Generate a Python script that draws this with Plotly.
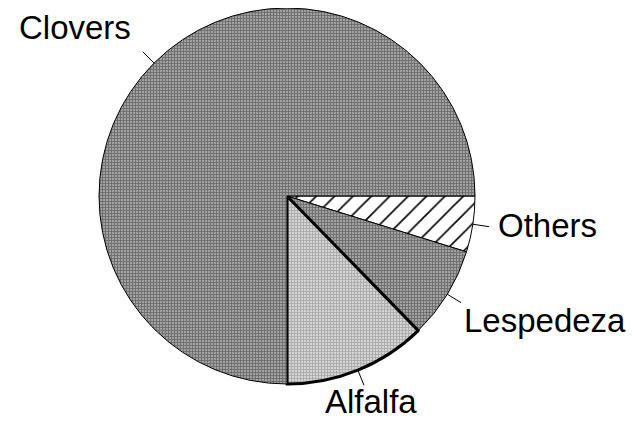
import math
import plotly.graph_objects as go

# ---- data ----
labels = ["Others", "Lespedeza", "Alfalfa", "Clovers"]
values = [4.8, 7.9, 12.3, 75.0]

# ---- style ----
OFF = 8                             # default page body margin
W, H = 634 - OFF, 422 - OFF
CX, CY, R = 287 - OFF, 196 - OFF, 188   # pie centre / radius in px (figure coords)
bg_colors = ["#ffffff", "#a0a0a0", "#d4d4d4", "#a0a0a0"]
fg_colors = ["#000000", "#686868", "#a4a4a4", "#686868"]
shapes = ["/", "+", "+", "+"]
sizes = [13, 3, 3, 3]
solid = [0.12, 0.45, 0.45, 0.45]
line_w = [1, 1, 3, 1]
LEAD = 18
FONT = dict(family="Liberation Sans, Arial, sans-serif", size=33, color="#000000")
label_anchor = {
    "Others": dict(xanchor="left", yanchor="middle", xshift=5, yshift=1),
    "Lespedeza": dict(xanchor="left", yanchor="top", xshift=-1, yshift=4),
    "Alfalfa": dict(xanchor="center", yanchor="top", xshift=6, yshift=6),
    "Clovers": dict(xanchor="right", yanchor="bottom", xshift=-8, yshift=2),
}

def clamp(v):
    return max(0.0, min(1.0, v))

fig = go.Figure(go.Pie(
    labels=labels, values=values, sort=False, direction="clockwise",
    rotation=90, textinfo="none", hoverinfo="label+percent",
    domain=dict(x=[clamp((CX - R) / W), clamp((CX + R) / W)],
                y=[clamp((H - CY - R) / H), clamp((H - CY + R) / H)]),
    marker=dict(
        colors=bg_colors,
        line=dict(color="#000000", width=line_w),
        pattern=dict(shape=shapes, bgcolor=bg_colors, fgcolor=fg_colors,
                     size=sizes, solidity=solid, fillmode="replace"),
    ),
))

total = sum(values)
cum = 0.0
annotations = []
for lab, v in zip(labels, values):
    mid = -(cum + v / 2) / total * 2 * math.pi
    cum += v
    c, s = math.cos(mid), math.sin(mid)
    tip_x = (CX + R * c) / W
    tip_y = (H - CY + R * s) / H
    tail_x = (CX + (R + LEAD) * c) / W
    tail_y = (H - CY + (R + LEAD) * s) / H
    # leader line
    annotations.append(dict(
        x=tip_x, y=tip_y, xref="paper", yref="paper", text="",
        showarrow=True, arrowhead=0, arrowwidth=1, arrowcolor="#000000",
        ax=LEAD * c, ay=-LEAD * s, standoff=0, startstandoff=0,
    ))
    # label text
    a = label_anchor[lab]
    annotations.append(dict(
        x=tail_x, y=tail_y, xref="paper", yref="paper", text=lab,
        showarrow=False, font=FONT, xanchor=a["xanchor"], yanchor=a["yanchor"],
        xshift=a["xshift"], yshift=a["yshift"],
    ))

fig.update_layout(
    width=W, height=H, margin=dict(l=0, r=0, t=0, b=0),
    paper_bgcolor="#ffffff", plot_bgcolor="#ffffff",
    showlegend=False, annotations=annotations,
)
fig.write_html("out.html")
